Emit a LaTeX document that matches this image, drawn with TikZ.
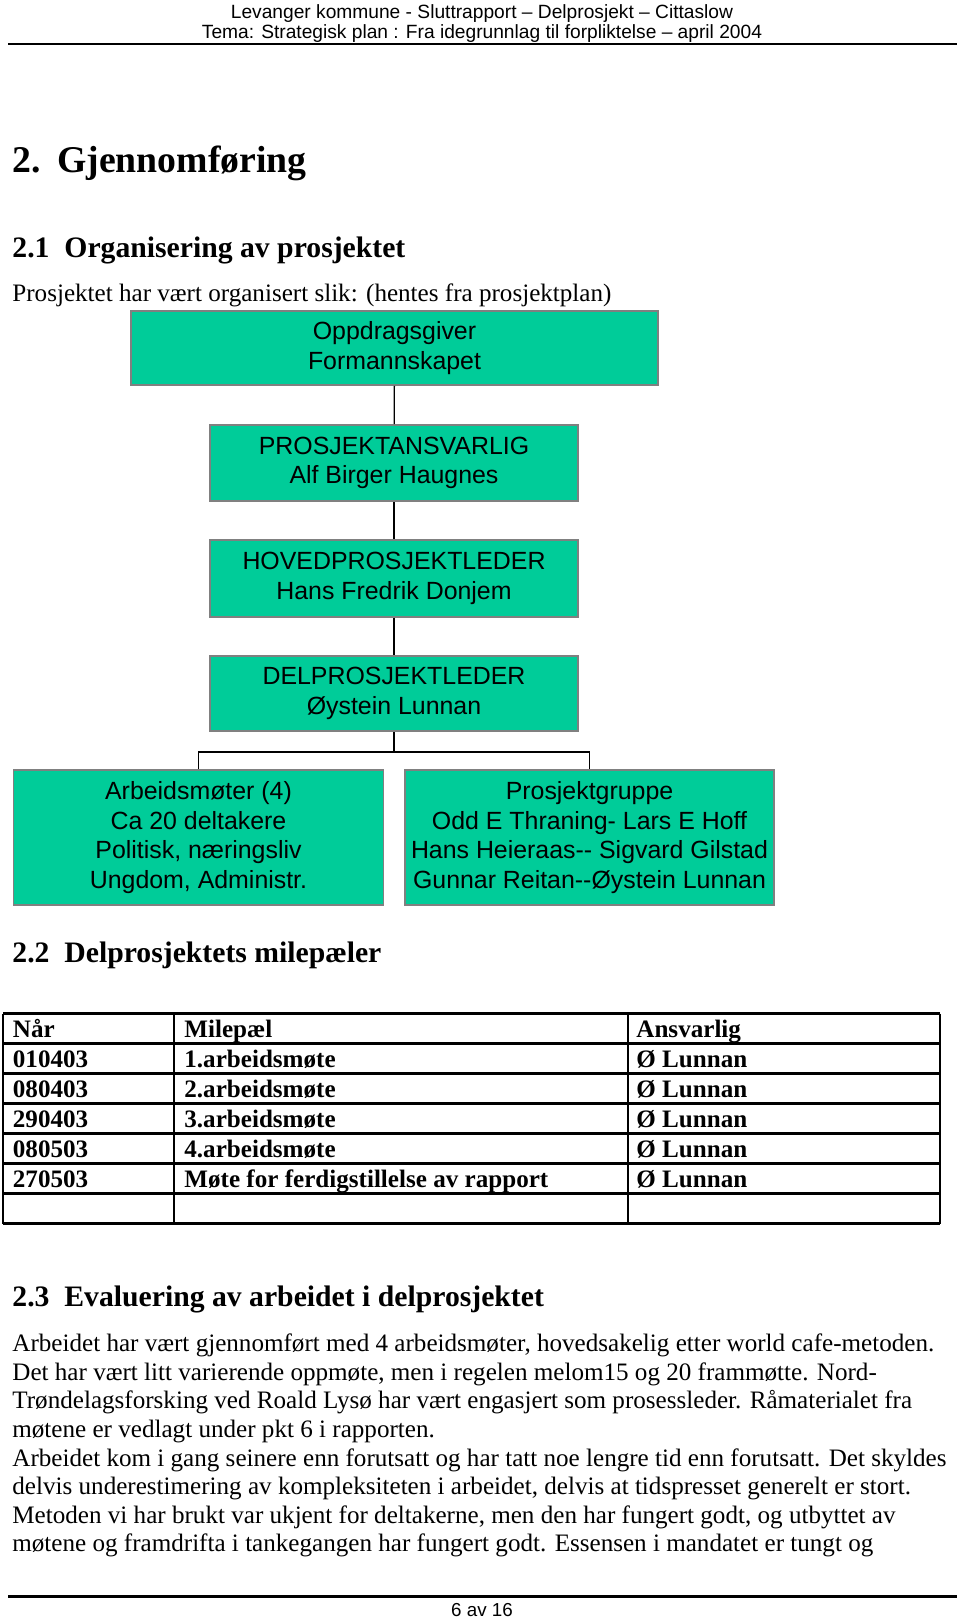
\documentclass[tikz,border=0pt]{standalone}
\usepackage{fontspec}
\setmainfont{Liberation Serif}
\newfontfamily\arialfont{Liberation Sans}
\usepackage{tikz}
\definecolor{orgfill}{RGB}{0,204,153}
\definecolor{orgline}{RGB}{128,128,128}
\newcommand{\pxu}{0.49pt}

\begin{document}
\begin{tikzpicture}[x=0.49pt, y=-0.49pt,
        orgbox/.style={draw=orgline, fill=orgfill, line width=0.75pt, inner sep=0pt, align=center,
            font=\arialfont\fontsize{12.2}{14.5}\selectfont},
        link/.style={line width=0.65pt},
        rule/.style={line width=1pt},
        plain/.style={anchor=base west, inner sep=0pt, font=\fontsize{12.3}{14}\selectfont},
        headone/.style={anchor=base west, inner sep=0pt, font=\bfseries\fontsize{18.5}{20}\selectfont},
        headtwo/.style={anchor=base west, inner sep=0pt, font=\bfseries\fontsize{14.55}{16}\selectfont},
        cell/.style={anchor=base west, inner sep=0pt, font=\bfseries\fontsize{12.3}{14}\selectfont},
        pagehead/.style={anchor=base, inner sep=0pt, font=\arialfont\fontsize{9.4}{10}\selectfont}]
    \useasboundingbox (0, 0) rectangle (960, 1617);

    % header and footer
    \node (kommune) at (482, 18) [pagehead] {Levanger kommune - Sluttrapport – Delprosjekt – Cittaslow};
    \node (tema) at (482, 38.5) [pagehead] {Tema: Strategisk plan : Fra idegrunnlag til forpliktelse – april 2004};
    \draw[rule] (8, 44) to (957, 44);
    \draw[rule] (8, 1596.5) to (957, 1596.5);
    \node (side) at (482, 1616) [pagehead, font=\arialfont\fontsize{9.2}{10}\selectfont] {6 av 16};

    \node (kap) at (12, 172) [headone] {\makebox[21.9pt][l]{2.}Gjennomføring};
    \node (org) at (12, 257.7) [headtwo] {\makebox[25.5pt][l]{2.1}Organisering av prosjektet};
    \node (intro) at (12, 301.7) [plain] {Prosjektet har vært organisert slik: (hentes fra prosjektplan)};

    % organisasjonskart
    \node (oppdrag) at (394.5, 348) [orgbox, minimum width=527*\pxu, minimum height=74*\pxu]
        {Oppdragsgiver\\Formannskapet};
    \node (ansvar) at (394, 463) [orgbox, minimum width=368*\pxu, minimum height=76*\pxu]
        {PROSJEKTANSVARLIG\\Alf Birger Haugnes};
    \node (hovedleder) at (394, 578.5) [orgbox, minimum width=368*\pxu, minimum height=77*\pxu]
        {HOVEDPROSJEKTLEDER\\Hans Fredrik Donjem};
    \node (delleder) at (394, 693.5) [orgbox, minimum width=368*\pxu, minimum height=75*\pxu]
        {DELPROSJEKTLEDER\\Øystein Lunnan};
    \node (arbeid) at (198.5, 837.5) [orgbox, minimum width=370*\pxu, minimum height=135*\pxu]
        {Arbeidsmøter (4)\\Ca 20 deltakere\\Politisk, næringsliv\\Ungdom, Administr.};
    \node (gruppe) at (589.5, 837.5) [orgbox, minimum width=369*\pxu, minimum height=135*\pxu]
        {Prosjektgruppe\\Odd E Thraning- Lars E Hoff\\Hans Heieraas-- Sigvard Gilstad\\Gunnar Reitan--Øystein Lunnan};

    \draw[link] (oppdrag) to (ansvar);
    \draw[link] (ansvar) to (hovedleder);
    \draw[link] (hovedleder) to (delleder);
    \coordinate (fork) at (394, 752);
    \draw[link] (delleder) to (fork);
    \draw[link] (arbeid.north) |- (fork) -| (gruppe.north);

    % milepaeler
    \node (mile) at (12, 962) [headtwo] {\makebox[25.5pt][l]{2.2}Delprosjektets milepæler};
    \foreach \row in {0,...,7}
        \draw[rule] (3, {1013.5+30*\row}) to (940, {1013.5+30*\row});
    \foreach \col in {3, 174, 628, 940}
        \draw[rule] (\col, 1013.5) to (\col, 1223.5);
    \node (naar) at (12.5, 1037.3) [cell] {Når};
    \node (milepael) at (184, 1037.3) [cell] {Milepæl};
    \node (ansvarlig) at (636, 1037.3) [cell] {Ansvarlig};
    \foreach \dato/\hva [count=\i] in {010403/1.arbeidsmøte, 080403/2.arbeidsmøte,
            290403/3.arbeidsmøte, 080503/4.arbeidsmøte, 270503/Møte for ferdigstillelse av rapport} {
        \node (dato\i) at (12.5, {1037.3+30*\i}) [cell] {\dato};
        \node (hva\i) at (184, {1037.3+30*\i}) [cell] {\hva};
        \node (hvem\i) at (636, {1037.3+30*\i}) [cell] {Ø Lunnan};
    }

    % evaluering
    \node (eval) at (12, 1306) [headtwo] {\makebox[25.5pt][l]{2.3}Evaluering av arbeidet i delprosjektet};
    \node (tekst1) at (12, 1351.7) [plain] {Arbeidet har vært gjennomført med 4 arbeidsmøter, hovedsakelig etter world cafe-metoden.};
    \node (tekst2) at (12, 1380.3) [plain] {Det har vært litt varierende oppmøte, men i regelen melom15 og 20 frammøtte. Nord-};
    \node (tekst3) at (12, 1408.9) [plain] {Trøndelagsforsking ved Roald Lysø har vært engasjert som prosessleder. Råmaterialet fra};
    \node (tekst4) at (12, 1437.5) [plain] {møtene er vedlagt under pkt 6 i rapporten.};
    \node (tekst5) at (12, 1466.1) [plain] {Arbeidet kom i gang seinere enn forutsatt og har tatt noe lengre tid enn forutsatt. Det skyldes};
    \node (tekst6) at (12, 1494.7) [plain] {delvis underestimering av kompleksiteten i arbeidet, delvis at tidspresset generelt er stort.};
    \node (tekst7) at (12, 1523.3) [plain] {Metoden vi har brukt var ukjent for deltakerne, men den har fungert godt, og utbyttet av};
    \node (tekst8) at (12, 1551.9) [plain] {møtene og framdrifta i tankegangen har fungert godt. Essensen i mandatet er tungt og};
\end{tikzpicture}
\end{document}
